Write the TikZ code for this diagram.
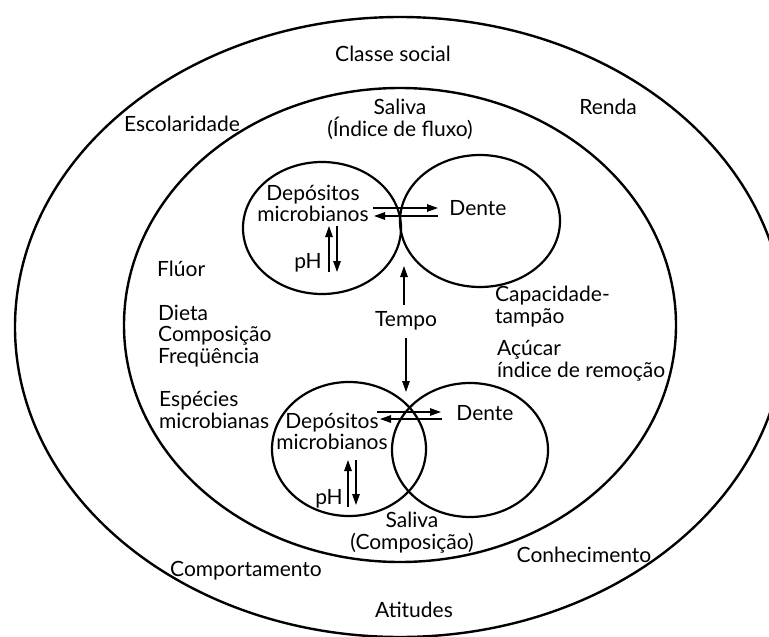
\documentclass[tikz,border=0pt]{standalone}
\usepackage{fontspec}
\setmainfont{Lato}
\usetikzlibrary{arrows.meta}
\begin{document}
\begin{tikzpicture}[x=1pt,y=-1pt,
  ring/.style={draw, line width=2.4pt},
  cell/.style={draw, line width=2.2pt},
  lbl/.style={font=\fontsize{21}{21.5}\selectfont, inner sep=0pt, anchor=base, align=center},
  lbll/.style={lbl, anchor=base west, align=left},
  tight/.style={font=\fontsize{21}{17}\selectfont},
  flow/.style={line width=1.3pt, -{Triangle[length=11pt,width=7.5pt]}}]
\useasboundingbox (0,0) rectangle (769,637);

% social and behavioural context
\draw[ring] (400,327) ellipse [x radius=385, y radius=310];
% oral environment
\draw[ring] (400,325) ellipse [x radius=276, y radius=237];

% plaque / tooth pairs
\draw[cell] (322,228) ellipse [x radius=79, y radius=66];
\draw[cell] (480,221) ellipse [x radius=80, y radius=66];
\draw[cell] (349,449) ellipse [x radius=77, y radius=67];
\draw[cell] (470,450) ellipse [x radius=78, y radius=67];

% outer ring labels (multi-line nodes sit on the baseline of their last line)
\node[lbl] (classe) at (393,61) {Classe social};
\node[lbl] (escol) at (182,131) {Escolaridade};
\node[lbl] (renda) at (608,114) {Renda};
\node[lbl] (comport) at (246,576) {Comportamento};
\node[lbl] (conhec) at (584,562) {Conhecimento};
\node[lbl] (atit) at (414,617) {Atitudes};

% inner ring labels
\node[lbl] (salivaf) at (400,136) {Saliva\\(Índice de fluxo)};
\node[lbll] (fluor) at (157,276) {Flúor};
\node[lbll] (dieta) at (158,363) {Dieta\\Composição\\Freqüência};
\node[lbll] (especies) at (159,428) {Espécies\\microbianas};
\node[lbll] (capac) at (495,323) {Capacidade-\\tampão};
\node[lbll] (acucar) at (497,377) {Açúcar\\índice de remoção};
\node[lbl] (salivac) at (412,549) {Saliva\\(Composição)};
\node[lbl] (tempo) at (406,326) {Tempo};

% upper pair
\node[lbl, tight] (dep1) at (313,221) {Depósitos\\microbianos};
\node[lbl] (dente1) at (478,215) {Dente};
\node[lbl] (ph1) at (308,268) {pH};
% lower pair
\node[lbl, tight] (dep2) at (332,449) {Depósitos\\microbianos};
\node[lbl] (dente2) at (485,420) {Dente};
\node[lbl] (ph2) at (329,504) {pH};

% arrow end points
\coordinate (a1s) at (373,208); \coordinate (a1e) at (438,208);
\coordinate (b1s) at (438,216); \coordinate (b1e) at (374,216);
\coordinate (p1s) at (329,272); \coordinate (p1e) at (329,226);
\coordinate (q1s) at (337,226); \coordinate (q1e) at (337,272);
\coordinate (a2s) at (377,412); \coordinate (a2e) at (441,412);
\coordinate (b2s) at (442,419); \coordinate (b2e) at (380,419);
\coordinate (p2s) at (348,507); \coordinate (p2e) at (348,460);
\coordinate (q2s) at (356,460); \coordinate (q2e) at (356,505);
\coordinate (t1s) at (404,305); \coordinate (t1e) at (404,266);
\coordinate (t2s) at (406,338); \coordinate (t2e) at (406,392);

\draw[flow] (a1s) -- (a1e);
\draw[flow] (b1s) -- (b1e);
\draw[flow] (p1s) -- (p1e);
\draw[flow] (q1s) -- (q1e);
\draw[flow] (a2s) -- (a2e);
\draw[flow] (b2s) -- (b2e);
\draw[flow] (p2s) -- (p2e);
\draw[flow] (q2s) -- (q2e);
\draw[flow] (t1s) -- (t1e);
\draw[flow] (t2s) -- (t2e);
\end{tikzpicture}
\end{document}
